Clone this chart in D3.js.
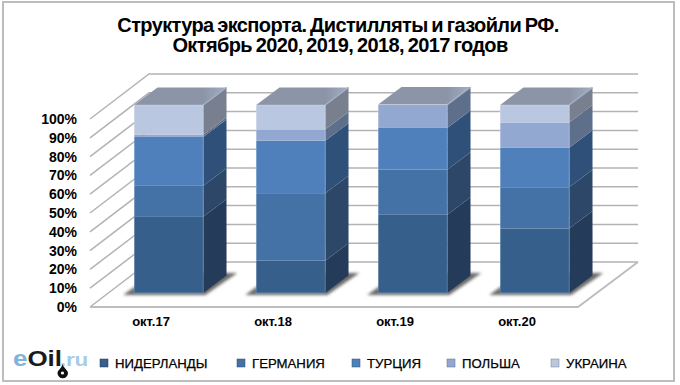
<!DOCTYPE html>
<html lang="ru">
<head>
    <meta charset="utf-8">
    <title>Структура экспорта</title>
    <script src="https://d3js.org/d3.v7.min.js"></script>
    <style>
        html, body { margin: 0; padding: 0; background: #fff; }
        svg { display: block; }
        text { font-family: "Liberation Sans", Arial, sans-serif; fill: #000; }
    </style>
</head>
<body>
<script>
    // Data (percent of export)
    const months    = ["окт.17", "окт.18", "окт.19", "окт.20"];
    const countries = ["НИДЕРЛАНДЫ", "ГЕРМАНИЯ", "ТУРЦИЯ", "ПОЛЬША", "УКРАИНА"];
    const netherlands = [40.5, 17.2, 41.6, 34.3];
    const germany     = [16.5, 35.9, 24.0, 21.9];
    const turkey      = [26.0, 27.9, 22.2, 21.0];
    const poland      = [1.2, 6.0, 12.4, 13.5];
    const ukraine     = [15.8, 13.0, 0, 9.3];
    const yTicks      = [0, 10, 20, 30, 40, 50, 60, 70, 80, 90, 100];

    // Colours per series: front face, side face
    const frontColors = ["#375f8b", "#4471a6", "#4f80bc", "#93a8d0", "#b9c7e1"];
    const sideColors  = ["#243b5a", "#2c4768", "#2f5179", "#5e6f8c", "#787f8e"];
    const topColor    = "#8c95a8";

    // Layout
    const width = 680, height = 385;
    const floorLeft = 90, floorRight = 578, floorFront = 307, wallTop = 119;
    const depthX = 59, depthY = 45;           // floor depth in the fake 3d
    const barShiftX = 17.7, barShiftY = 14;   // where bars stand on the floor
    const barDepthX = 23.3, barDepthY = 17.5;
    const legendMarkX = [103, 240, 355, 450, 554];

    const svg = d3.select("body").append("svg")
        .attr("width", width).attr("height", height);

    // Defs
    const defs = svg.append("defs");
    defs.append("filter").attr("id", "blur")
        .attr("x", "-20%").attr("y", "-50%").attr("width", "140%").attr("height", "200%")
        .append("feGaussianBlur").attr("stdDeviation", 1.6);
    const topGrad = defs.append("linearGradient").attr("id", "topGrad")
        .attr("x1", 0).attr("x2", 1).attr("y1", 0).attr("y2", 0);
    topGrad.append("stop").attr("offset", "0.75").attr("stop-color", topColor);
    topGrad.append("stop").attr("offset", "0.97").attr("stop-color", "#a0abc0");
    topGrad.append("stop").attr("offset", "1").attr("stop-color", "#808a9e");

    // Frame
    svg.append("rect").attr("x", 3).attr("y", 2).attr("width", 671).attr("height", 379)
        .attr("fill", "#fff").attr("stroke", "#bdbdbd").attr("stroke-width", 2);

    // Title
    const title = svg.append("g").attr("text-anchor", "middle")
        .attr("font-weight", "bold").attr("font-size", 20)
        .attr("letter-spacing", -0.62).attr("word-spacing", -1.2);
    title.append("text").attr("x", 338).attr("y", 32)
        .text("Структура экспорта. Дистилляты и газойли РФ.");
    title.append("text").attr("x", 340).attr("y", 52)
        .text("Октябрь 2020, 2019, 2018, 2017 годов");

    // Scales
    const x = d3.scaleBand().domain(months).range([floorLeft, floorRight]).paddingInner(0.434).paddingOuter(0.217);
    const y = d3.scaleLinear().domain([0, 100]).range([floorFront, wallTop]);

    // Walls and gridlines
    const grid = svg.append("g").attr("fill", "none").attr("stroke", "#b3b3b3").attr("stroke-width", 1.5);
    yTicks.forEach(t => {
        grid.append("path").attr("d", d3.line()([
            [floorLeft, y(t)],
            [floorLeft + depthX, y(t) - depthY],
            [floorRight + depthX + 1, y(t) - depthY]
        ]));
    });
    // floor edge
    svg.append("path")
        .attr("d", d3.line()([
            [floorLeft, floorFront], [floorRight, floorFront],
            [floorRight + depthX + 1, floorFront - depthY]
        ]))
        .attr("fill", "none").attr("stroke", "#bdbdbd").attr("stroke-width", 2);

    // Stack
    const rows = months.map((m, i) => ({
        month: m,
        [countries[0]]: netherlands[i],
        [countries[1]]: germany[i],
        [countries[2]]: turkey[i],
        [countries[3]]: poland[i],
        [countries[4]]: ukraine[i]
    }));
    const stacked = d3.stack().keys(countries)(rows);

    const barG = svg.selectAll("g.bar").data(months).enter().append("g").attr("class", "bar")
        .attr("transform", `translate(${barShiftX},${-barShiftY})`);

    // Shadow on the floor
    barG.append("path")
        .attr("d", d => {
            const x0 = x(d), x1 = x0 + x.bandwidth(), b = y(0);
            return d3.line()([[x0 - 11, b + 2], [x1 + 2, b + 2], [x1 + 34, b - 20], [x0 + 20, b - 20]]) + "Z";
        })
        .attr("fill", "#6a6a6a").attr("filter", "url(#blur)");

    // Side faces first, front faces after
    stacked.forEach((layer, s) => {
        barG.filter((d, i) => layer[i][1] > layer[i][0]).each(function(d) {
            const i = months.indexOf(d);
            const seg = layer[i];
            const g = d3.select(this);
            const x1 = x(d) + x.bandwidth();
            g.append("path")
                .attr("d", d3.line()([
                    [x1, y(seg[0])], [x1 + barDepthX, y(seg[0]) - barDepthY],
                    [x1 + barDepthX, y(seg[1]) - barDepthY], [x1, y(seg[1])]
                ]) + "Z")
                .attr("fill", sideColors[s]);
            g.append("rect")
                .attr("x", x(d)).attr("width", x.bandwidth())
                .attr("y", y(seg[1])).attr("height", y(seg[0]) - y(seg[1]))
                .attr("fill", frontColors[s]);
        });
    });

    // Top faces and soft edges
    barG.each(function(d) {
        const g = d3.select(this);
        const x0 = x(d), x1 = x0 + x.bandwidth();
        const i = months.indexOf(d);
        const top = y(d3.max(stacked, l => l[i][1]));
        g.append("path")
            .attr("d", d3.line()([
                [x0, top], [x1, top], [x1 + barDepthX, top - barDepthY], [x0 + barDepthX, top - barDepthY]
            ]) + "Z")
            .attr("fill", "url(#topGrad)");
        g.append("path")
            .attr("d", d3.line()([[x1, top], [x1 + barDepthX, top - barDepthY]]))
            .attr("stroke", "#a4afc4").attr("stroke-width", 1.5).attr("fill", "none");
        g.append("rect")
            .attr("x", x0).attr("y", top).attr("width", x.bandwidth()).attr("height", y(0) - top)
            .attr("fill", "none").attr("stroke", "#fff").attr("stroke-opacity", 0.22);
    });

    // Y axis
    const yAxis = svg.append("g").attr("transform", `translate(${floorLeft - 13},0)`)
        .call(d3.axisLeft(y).tickValues(yTicks).tickFormat(d => d + "%").tickSize(0).tickPadding(0));
    yAxis.select(".domain").remove();
    yAxis.selectAll("text").attr("font-size", 14).attr("font-weight", "bold").attr("fill", "#000")
        .style("font-family", '"Liberation Sans", Arial, sans-serif');

    // X axis
    const xAxis = svg.append("g").attr("transform", `translate(0,${floorFront + 10})`)
        .call(d3.axisBottom(x).tickSize(0).tickPadding(0));
    xAxis.select(".domain").remove();
    xAxis.selectAll("text").attr("font-size", 13).attr("font-weight", "bold").attr("fill", "#000")
        .style("font-family", '"Liberation Sans", Arial, sans-serif');

    // Legend
    const legend = svg.selectAll("g.legend").data(countries).enter().append("g").attr("class", "legend")
        .attr("transform", (d, i) => `translate(${legendMarkX[i]},363)`);
    legend.append("rect").attr("x", -3).attr("y", -4).attr("width", 8).attr("height", 8)
        .attr("fill", (d, i) => frontColors[i]).attr("stroke", (d, i) => sideColors[i]).attr("stroke-width", 0.5);
    legend.append("text").attr("x", 12).attr("y", 5).attr("font-size", 13.2)
        .attr("stroke", "#000").attr("stroke-width", 0.25).text(d => d);

    // Logo (letters are stretched wide in the original)
    const logo = svg.append("text").attr("transform", "translate(13,366) scale(1.18,1)")
        .attr("font-size", 22).attr("font-weight", "bold");
    logo.append("tspan").style("fill", "#7fb3dc").text("e");
    logo.append("tspan").style("fill", "#1a1a1a").text("Oil");
    logo.append("tspan").style("fill", "#a6cce8").attr("font-size", 19).attr("dx", -2).text(".ru");
    svg.append("path")
        .attr("d", "M62.5 364 C62 368 57.5 370 57.5 373 A5.2 5.2 0 0 0 68 373 C68 370 63.5 368 62.5 364 Z")
        .attr("fill", "#111");
    svg.append("circle").attr("cx", 62.5).attr("cy", 373).attr("r", 1.6).attr("fill", "#fff");
</script>
</body>
</html>
